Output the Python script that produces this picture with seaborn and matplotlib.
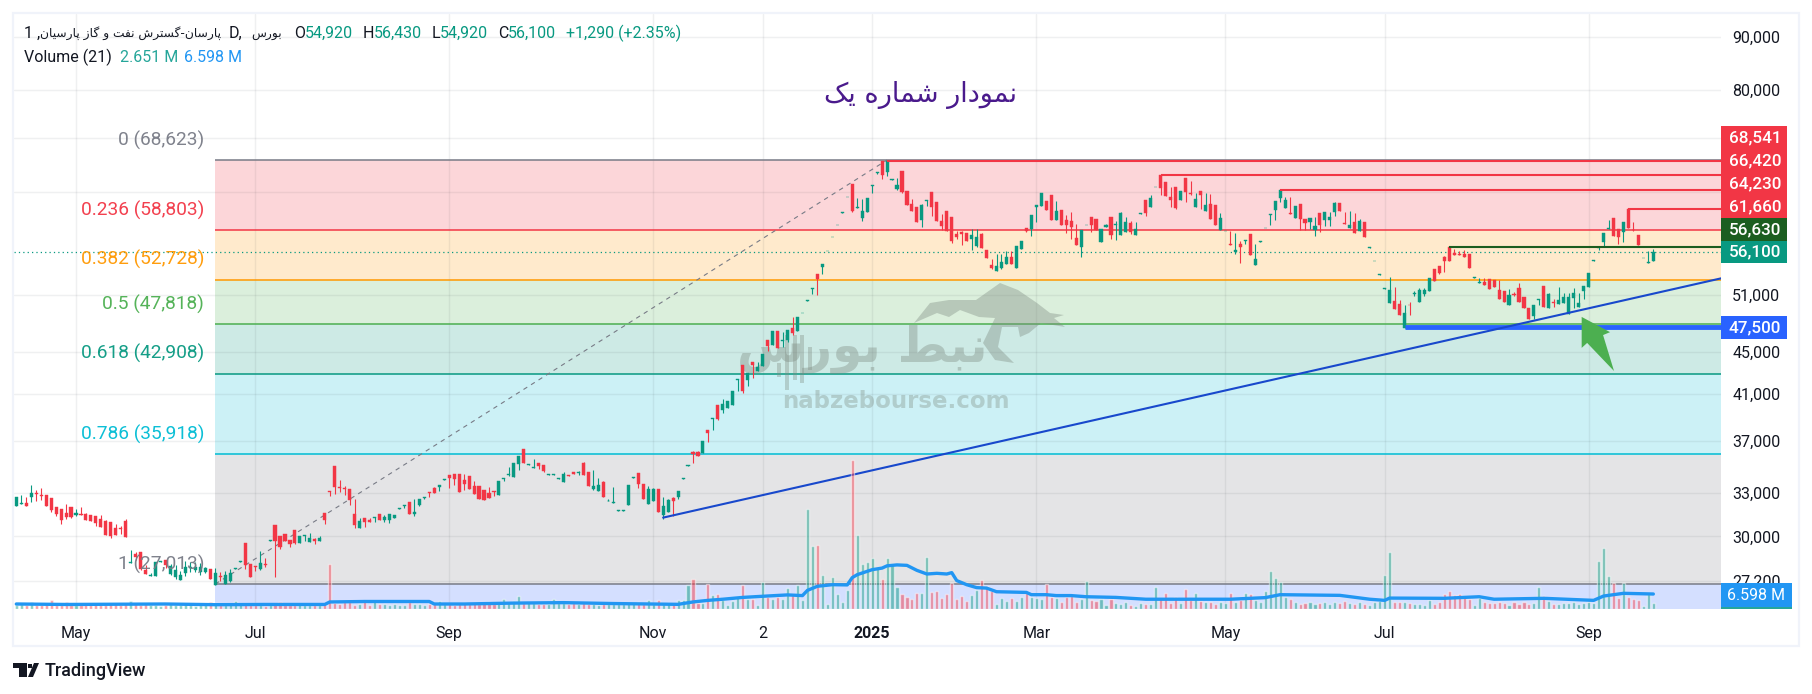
# TradingView style daily chart, Fibonacci retracement + volume pane
import numpy as np
import pandas as pd
import matplotlib
matplotlib.use("Agg")
import matplotlib.pyplot as plt
import matplotlib.transforms as mtransforms
from matplotlib.patches import Rectangle, Polygon
import seaborn as sns

# ------------------------------------------------------------
# Data (prices in thousands, volume in millions)
# ------------------------------------------------------------
opens = [
    32.10,32.24,32.29,32.71,33.02,32.85,32.85,32.64,32.00,31.86,
    31.58,32.00,31.44,31.51,31.51,31.44,31.37,31.17,31.03,30.96,
    30.55,30.55,31.03,28.30,28.86,28.98,27.86,27.50,27.50,28.38,
    28.48,27.62,27.44,27.25,27.68,27.99,27.86,27.74,27.74,27.93,
    26.95,27.50,27.01,27.19,27.95,28.38,29.56,28.23,28.11,27.93,
    28.23,29.72,30.75,30.03,30.16,29.76,30.42,29.56,30.03,29.63,
    29.83,29.69,31.58,33.12,35.01,33.43,33.36,33.29,31.51,30.55,
    31.23,31.10,31.23,31.51,31.10,31.10,31.23,31.88,32.08,32.36,
    31.51,32.15,32.64,33.07,33.36,33.43,33.98,34.33,34.41,34.41,
    33.95,34.26,33.51,33.51,33.21,32.99,33.14,32.85,34.03,34.33,
    34.18,35.17,36.34,35.09,34.86,35.25,35.09,34.36,34.36,34.03,
    33.80,34.33,34.56,34.48,35.25,34.56,33.29,33.14,33.80,32.41,
    32.31,31.74,31.74,32.15,34.13,34.48,33.65,32.22,32.43,33.29,
    31.44,31.65,32.64,32.71,34.05,35.04,36.09,36.09,36.03,37.87,
    38.84,40.07,39.63,39.80,40.07,42.29,43.70,42.29,44.00,43.15,
    43.65,46.18,45.68,47.10,46.08,46.18,47.42,47.10,48.98,50.35,
    51.71,53.43,54.25,56.13,57.88,59.45,61.10,63.20,65.10,61.74,
    60.45,61.15,64.80,66.65,68.54,66.85,65.70,64.40,67.00,64.10,
    62.35,61.88,60.15,62.70,63.95,62.55,60.00,61.30,60.60,58.30,
    58.55,58.45,57.65,56.85,58.30,56.31,54.49,53.78,54.14,54.60,
    55.45,54.14,56.43,59.13,59.00,61.95,62.04,62.73,63.57,60.17,
    61.50,60.17,60.03,57.81,56.68,59.42,60.57,60.30,57.30,59.26,
    60.57,59.50,58.20,58.60,59.76,58.20,61.00,62.87,61.90,64.60,
    66.41,65.40,63.29,64.70,62.87,65.97,63.85,61.90,64.13,61.37,
    62.32,62.18,58.87,58.65,57.05,56.10,57.05,57.43,58.33,54.49,
    57.35,59.05,60.83,61.50,63.15,61.77,61.10,60.43,62.32,60.30,
    59.90,58.87,61.10,60.17,60.17,61.24,62.46,59.76,59.13,59.90,
    58.76,59.90,56.60,54.90,53.35,51.73,50.13,50.35,50.02,47.44,
    49.90,51.13,50.24,51.13,51.47,54.02,54.37,55.45,56.68,55.93,
    55.82,55.82,55.82,53.00,52.38,52.50,52.85,52.74,51.58,51.47,
    49.90,51.13,51.80,50.79,49.58,48.72,50.46,52.03,49.58,50.24,
    50.02,50.13,48.94,50.68,49.70,51.47,51.93,55.00,56.55,57.30,
    59.00,60.44,58.97,58.55,61.66,58.85,58.20,55.27,54.77,54.92,
]
highs = [
    32.71,32.85,32.71,33.58,33.21,33.36,32.85,32.64,32.00,31.86,
    32.22,32.00,31.86,32.00,31.58,31.44,31.37,31.44,31.10,30.96,
    30.82,30.69,31.17,29.11,28.96,28.98,28.17,27.66,28.36,28.42,
    28.48,28.23,28.17,27.80,28.42,28.36,28.36,28.30,28.05,27.93,
    27.99,27.74,27.80,27.93,27.99,28.42,29.56,28.23,28.11,29.04,
    28.60,29.76,30.75,30.03,30.16,29.76,30.42,30.03,30.09,30.22,
    29.89,30.03,31.58,33.12,35.01,33.95,33.51,33.29,32.57,31.23,
    31.23,31.23,31.30,31.51,31.44,31.51,31.44,31.93,32.15,32.36,
    32.57,32.57,32.71,33.07,33.43,33.58,34.03,34.33,34.41,34.41,
    34.41,34.26,33.88,33.51,33.21,33.43,33.14,33.88,34.10,34.93,
    35.25,35.78,36.34,35.17,35.55,35.25,35.09,34.41,34.41,34.10,
    34.56,34.33,34.56,34.63,35.33,34.56,34.71,34.10,33.88,32.54,
    33.43,31.79,31.79,33.58,34.18,34.48,33.65,33.51,33.36,33.29,
    32.71,32.57,32.71,33.14,34.10,35.09,36.17,36.17,36.99,37.87,
    38.92,40.07,40.59,40.42,41.30,42.38,43.70,42.97,44.00,44.00,
    44.80,46.18,47.10,47.10,47.00,47.20,48.60,48.60,49.05,50.42,
    51.83,53.43,54.60,56.20,57.95,59.55,61.20,63.28,65.10,63.15,
    63.00,63.15,64.95,66.80,68.54,68.54,65.75,66.00,67.00,64.10,
    63.00,61.88,62.35,62.85,63.95,62.55,61.00,61.30,60.60,58.70,
    58.70,58.45,58.90,58.90,58.45,56.31,55.20,55.82,55.82,56.19,
    56.19,56.80,57.43,59.13,60.83,62.18,63.85,62.73,63.57,62.73,
    61.50,60.83,61.24,59.63,58.87,59.50,60.57,60.30,59.00,59.63,
    60.57,60.03,61.24,60.57,60.03,59.90,61.10,62.87,63.57,64.70,
    66.41,65.40,64.70,64.70,64.13,65.97,65.55,63.85,64.13,63.85,
    63.70,62.18,61.10,58.74,58.74,58.48,57.43,57.55,58.33,57.05,
    57.43,59.13,60.96,62.73,64.27,63.29,63.29,62.04,62.32,60.30,
    60.43,60.57,61.10,61.24,61.24,62.60,62.46,61.24,61.37,61.10,
    60.30,59.90,56.68,54.97,53.43,51.80,53.08,51.93,50.46,49.90,
    50.24,51.47,51.80,51.80,52.97,54.02,54.37,55.57,56.68,56.43,
    56.19,56.31,55.82,53.08,52.97,52.97,52.85,52.74,52.74,51.47,
    51.70,51.36,52.38,50.79,49.58,49.90,50.53,52.03,51.25,50.57,
    51.93,51.25,51.25,51.80,51.25,52.03,53.55,55.09,56.68,58.42,
    60.17,60.44,58.97,59.90,61.76,59.90,58.20,55.35,56.19,56.43,
]
lows = [
    32.10,32.24,32.10,32.38,32.45,32.52,32.10,31.65,31.39,30.82,
    31.17,31.23,31.37,31.44,31.10,31.03,30.69,30.62,30.09,29.89,
    30.09,30.16,29.96,28.30,28.48,27.86,27.62,27.50,27.50,28.38,
    27.97,27.56,27.31,27.25,27.50,27.74,27.74,27.56,27.68,27.31,
    26.95,27.19,27.01,27.13,27.95,28.38,27.93,27.44,27.80,27.86,
    28.05,29.72,27.44,29.17,29.69,29.30,29.50,29.56,29.69,29.63,
    29.50,29.69,30.82,32.78,32.92,33.07,32.85,32.15,30.55,30.55,
    30.62,30.96,30.96,31.10,30.96,30.89,31.23,31.88,31.93,31.51,
    31.37,32.08,32.57,32.71,32.99,33.14,33.98,33.36,33.58,33.07,
    33.21,33.29,32.92,32.57,32.50,32.64,32.78,32.85,33.88,34.28,
    34.18,34.71,35.25,35.09,34.86,34.78,34.56,34.36,34.36,34.03,
    33.80,34.28,34.41,34.33,34.33,33.51,33.21,33.14,32.71,32.41,
    32.31,31.74,31.74,32.15,34.13,33.36,32.57,32.22,32.43,31.65,
    31.17,31.65,31.37,32.57,34.05,35.04,35.25,35.78,36.03,36.90,
    37.87,38.78,39.37,39.80,40.07,41.30,41.12,41.73,42.48,43.15,
    43.65,45.10,45.68,45.38,45.48,45.98,46.69,47.10,48.98,50.35,
    51.15,51.04,53.43,56.13,57.88,59.45,61.10,63.20,61.20,61.74,
    60.00,61.15,63.80,66.50,65.85,66.25,65.70,64.25,63.80,62.20,
    61.30,59.90,59.20,62.05,60.70,60.00,58.80,58.70,57.20,57.65,
    56.95,57.40,56.30,56.70,56.60,55.35,54.02,53.78,54.02,54.60,
    54.60,54.14,56.43,58.60,58.07,59.90,62.04,61.50,60.17,60.17,
    59.50,58.48,57.68,56.92,55.45,59.42,58.60,58.87,57.30,59.26,
    57.68,57.55,58.20,58.60,58.33,58.20,61.00,60.70,61.90,64.60,
    63.57,63.43,61.90,61.63,62.87,62.60,63.60,61.90,61.63,61.37,
    60.30,59.50,58.87,58.65,56.92,55.82,54.73,57.05,55.70,54.49,
    57.35,59.05,59.50,60.17,62.60,61.77,60.96,60.43,58.87,58.87,
    59.00,58.07,58.60,59.37,59.37,60.70,61.37,59.68,59.13,58.48,
    58.76,57.93,56.60,54.90,53.35,51.73,50.13,49.48,48.83,47.44,
    48.83,50.90,50.24,50.90,51.47,52.62,53.43,53.67,54.97,55.70,
    55.70,55.45,54.13,53.00,52.38,52.15,51.70,51.93,50.58,50.24,
    49.90,50.90,50.24,49.58,48.40,48.40,49.90,49.70,49.58,49.70,
    50.02,50.13,48.94,49.58,49.70,50.58,51.93,55.00,56.31,56.80,
    59.00,58.05,57.05,57.30,59.10,58.75,56.93,55.27,54.77,54.92,
]
closes = [
    32.71,32.29,32.10,32.99,32.90,32.78,32.10,31.79,31.53,31.12,
    31.30,31.30,31.58,31.46,31.10,31.03,30.89,30.62,30.09,30.03,
    30.09,30.48,29.96,28.36,28.67,27.93,27.62,27.58,28.36,28.42,
    28.17,28.11,27.86,27.56,28.05,28.05,28.05,28.05,27.99,27.31,
    27.68,27.44,27.56,27.68,27.99,28.42,28.17,27.44,28.05,28.30,
    28.17,29.76,29.69,29.30,29.69,29.50,29.56,30.03,30.09,29.89,
    29.69,29.89,31.10,33.07,33.43,33.36,33.29,32.50,30.75,31.03,
    30.96,30.96,31.30,31.10,31.30,31.51,31.44,31.93,32.15,31.51,
    31.65,32.57,32.71,32.99,32.99,33.58,34.03,34.10,34.03,33.07,
    33.65,33.29,32.92,32.57,32.50,32.64,33.07,33.88,34.10,34.41,
    35.25,35.78,35.25,35.17,34.93,35.01,34.63,34.41,34.41,34.10,
    34.41,34.28,34.41,34.56,34.33,33.51,33.51,33.58,32.71,32.45,
    32.36,31.79,31.79,33.58,34.18,33.65,32.57,33.29,33.29,31.65,
    32.08,32.50,32.43,33.14,34.10,35.09,35.93,35.78,36.99,37.63,
    38.92,38.86,40.16,40.42,41.30,42.38,41.30,42.97,43.74,43.55,
    44.80,45.58,47.10,45.38,46.18,47.20,46.90,48.60,49.05,50.42,
    51.83,52.85,54.60,56.20,57.95,59.55,61.20,63.28,61.30,61.88,
    61.30,63.15,64.95,66.80,66.40,68.54,65.75,64.95,63.95,62.20,
    61.30,59.90,62.20,62.85,61.88,60.00,59.30,58.70,57.40,57.95,
    58.30,57.40,58.20,57.95,56.60,55.35,54.14,54.37,54.85,55.45,
    54.60,56.80,57.43,58.74,60.83,62.18,63.85,61.50,60.17,61.37,
    59.50,59.50,59.26,56.92,58.87,59.50,59.50,58.87,59.00,59.50,
    58.20,59.63,61.10,59.90,58.60,59.00,61.10,61.10,63.15,64.70,
    64.55,63.43,62.87,61.77,64.13,64.00,63.70,63.00,63.57,62.18,
    60.30,59.50,60.43,58.74,56.92,56.31,56.68,57.55,55.70,55.20,
    57.43,59.13,60.96,62.73,64.27,62.87,60.96,62.04,60.30,59.76,
    60.43,59.37,59.50,61.24,60.57,62.46,61.37,59.68,59.50,58.48,
    60.05,57.93,56.68,54.97,53.43,51.80,51.58,49.48,48.83,49.05,
    49.84,51.25,51.58,51.58,52.97,52.62,53.55,54.97,54.97,55.70,
    55.70,55.45,54.13,53.08,52.50,52.15,51.70,51.93,50.58,50.24,
    51.00,51.00,50.24,49.58,48.40,49.90,50.53,49.70,51.13,50.13,
    50.46,50.79,50.79,51.25,50.13,52.03,53.55,55.09,56.68,58.42,
    59.10,58.05,57.93,59.90,59.10,58.80,56.93,55.35,54.85,56.10,
]
volumes = [
    1.8,2.0,1.6,3.1,1.7,1.9,2.1,4.0,1.6,1.8,
    3.2,1.9,1.6,1.8,2.0,1.7,2.2,1.8,1.9,2.0,
    2.1,1.8,2.4,3.4,2.0,1.7,2.2,1.9,1.6,1.5,
    1.9,2.0,1.8,1.6,2.1,1.7,1.5,1.8,2.0,3.0,
    2.2,1.9,1.8,2.1,3.7,2.0,2.3,1.9,1.7,1.8,
    1.5,1.7,2.4,3.0,1.9,1.6,1.8,2.0,1.7,1.6,
    1.9,1.8,2.1,19.8,2.6,2.4,3.0,3.0,1.8,2.0,
    3.4,1.7,3.4,2.0,2.2,1.8,2.3,1.7,1.9,3.0,
    2.1,2.4,1.9,2.2,2.0,3.4,2.0,2.4,1.8,2.3,
    2.6,2.1,2.5,2.2,2.8,3.2,2.4,2.6,4.4,2.9,
    3.4,5.7,2.8,3.2,2.6,2.1,2.4,2.3,4.4,2.6,
    2.5,2.0,2.8,2.3,2.6,2.2,2.0,1.9,2.4,2.1,
    2.3,2.0,2.2,2.8,2.5,3.3,2.4,3.8,2.3,3.8,
    2.4,2.6,2.2,4.0,3.8,10.7,13.3,2.6,2.6,11.1,
    6.0,6.7,3.8,1.9,3.4,5.4,10.7,4.5,4.5,1.6,
    11.7,5.3,4.3,5.3,4.3,9.4,6.0,10.6,3.8,43.9,
    27.6,28.0,14.8,2.3,13.9,6.5,2.9,8.2,65.4,32.4,
    19.7,20.5,22.3,18.2,13.0,22.3,19.9,9.5,6.5,5.1,
    4.3,6.9,6.9,22.7,7.3,7.8,4.7,6.5,11.3,4.3,
    5.6,3.4,6.0,8.2,12.6,10.0,7.8,2.1,4.7,3.4,
    4.7,3.4,5.1,6.9,5.1,4.7,4.3,10.9,5.1,4.7,
    2.9,5.1,5.6,2.9,4.3,12.2,3.8,3.4,4.3,1.6,
    4.3,2.5,2.1,2.9,1.6,1.2,2.5,2.1,2.1,9.5,
    4.3,6.9,2.5,5.1,2.6,8.8,3.8,7.2,3.5,3.0,
    2.9,2.4,3.1,2.5,7.2,3.2,4.0,7.2,6.6,3.8,
    3.0,7.9,16.7,13.6,11.9,5.4,4.2,2.9,2.4,2.6,
    3.0,2.2,2.6,3.0,2.4,3.3,2.6,3.5,2.8,2.2,
    2.9,2.4,1.9,3.2,3.4,15.0,25.0,3.0,2.9,3.2,
    2.5,2.0,2.1,1.9,3.9,2.2,3.2,6.5,7.9,6.1,
    6.6,5.2,4.2,1.7,5.0,3.2,2.5,2.6,3.1,2.5,
    1.8,3.0,2.4,3.0,2.1,2.6,9.8,5.7,3.6,2.2,
    2.4,2.6,2.6,3.0,2.4,2.6,3.0,2.5,21.0,26.8,
    14.5,11.6,5.0,11.6,5.4,4.5,4.0,1.5,6.5,2.651,
]
# moving average of volume, vertices
ma_bars = [0,10,20,30,40,50,62,63,70,83,84,90,100,110,120,133,136,139,142,146,150,155,158,159,161,
           164,167,168,169,172,174,175,177,179,181,183,185,187,188,189,191,193,195,197,203,204,207,
           209,212,215,221,227,233,244,251,254,266,272,275,276,287,294,297,307,317,319,323,329]
ma_values = [2.2,2.0,2.1,2.2,1.9,2.0,2.0,3.1,3.3,3.3,2.2,2.2,2.6,2.8,2.4,2.05,3.1,3.8,4.3,5.1,5.6,6.2,5.9,8.2,10.0,
             10.7,10.6,13.8,15.1,17.3,18.0,19.0,19.4,19.2,17.0,15.4,15.7,15.4,16.0,12.5,10.7,9.4,9.2,7.6,7.3,6.3,6.3,
             5.9,5.9,5.4,5.1,4.3,4.3,4.3,5.0,6.3,6.0,4.3,3.8,4.8,4.7,5.4,4.3,4.7,3.8,5.7,6.9,6.598]

fib_levels = [68623, 58803, 52728, 47818, 42908, 35918, 27013]
fib_names = ["0", "0.236", "0.382", "0.5", "0.618", "0.786", "1"]
fib_colors = ["#787b86", "#f23645", "#ff9800", "#4caf50", "#089981", "#00bcd4", "#787b86"]

tick_prices = [90000, 80000, 72000, 64000, 51000, 45000, 41000, 37000, 33000, 30000, 27200]
tick_labels = ["90,000", "80,000", "", "", "51,000", "45,000", "41,000", "37,000", "33,000", "30,000", "27,200"]
month_bars = [12, 48, 87, 128, 150, 172, 205, 243, 275, 316]
month_labels = ["May", "Jul", "Sep", "Nov", "2", "2025", "Mar", "May", "Jul", "Sep"]

# level lines: start bar, price, colour, width in points
level_bars = [175, 230, 254, 324, 288, 279]
level_prices = [68541, 66420, 64230, 61660, 56630, 47500]
level_colors = ["#f23645", "#f23645", "#f23645", "#f23645", "#1b5e20", "#2962ff"]
level_widths = [1.5, 1.5, 1.5, 1.5, 1.5, 3.5]

trend_bars = [130, 342.6]
trend_prices = [31260, 52900]
arrow_bars = [314.6, 320.3, 318.9, 321.1, 315.7, 314.6]
arrow_prices = [48600, 47000, 46700, 43150, 45900, 45400]

# price tags on the right: text, colour, top and bottom pixel
tag_texts = ["68,541", "66,420", "64,230", "61,660", "56,630", "56,100", "47,500"]
tag_colors = ["#f23645", "#f23645", "#f23645", "#f23645", "#1b5e20", "#089981", "#2962ff"]
tag_tops = [126, 149, 172, 195, 218, 241, 316]
tag_bottoms = [149, 172, 195, 218, 241, 263, 339]

UP = "#089981"
DOWN = "#f23645"
W, H = 1812, 694

# Persian letters: isolated, final, initial, medial presentation forms
FORMS = {
    "ا": "\ufe8d\ufe8e", "د": "\ufea9\ufeaa", "ر": "\ufead\ufeae", "ز": "\ufeaf\ufeb0", "و": "\ufeed\ufeee",
    "ب": "\ufe8f\ufe90\ufe91\ufe92", "پ": "\ufb56\ufb57\ufb58\ufb59", "ت": "\ufe95\ufe96\ufe97\ufe98",
    "س": "\ufeb1\ufeb2\ufeb3\ufeb4", "ش": "\ufeb5\ufeb6\ufeb7\ufeb8", "ض": "\ufec1\ufec2\ufec3\ufec4",
    "ف": "\ufed1\ufed2\ufed3\ufed4", "ک": "\ufb8e\ufb8f\ufb90\ufb91", "گ": "\ufb92\ufb93\ufb94\ufb95",
    "م": "\ufee1\ufee2\ufee3\ufee4", "ن": "\ufee5\ufee6\ufee7\ufee8", "ه": "\ufee9\ufeea\ufeeb\ufeec",
    "ی": "\ufbfc\ufbfd\ufbfe\ufbff",
}


def fa(text):
    # matplotlib does not shape Arabic script, so join the letters here
    out = []
    for k, ch in enumerate(text):
        forms = FORMS.get(ch)
        if forms is None:
            out.append(ch)
            continue
        prev = text[k - 1] if k > 0 else " "
        nxt = text[k + 1] if k + 1 < len(text) else " "
        joins_prev = prev in FORMS and len(FORMS[prev]) == 4
        joins_next = nxt in FORMS and len(forms) == 4
        idx = {(False, False): 0, (True, False): 1, (False, True): 2, (True, True): 3}[(joins_prev, joins_next)]
        out.append(forms[idx])
    return "".join(reversed(out))


# ------------------------------------------------------------
# Figure
# ------------------------------------------------------------
sns.set_theme(style="white")
plt.rcParams["font.family"] = ["Roboto", "DejaVu Sans"]

df = pd.DataFrame({"bar": np.arange(len(closes)), "open": opens, "high": highs, "low": lows,
                   "close": closes, "volume": volumes})
df[["open", "high", "low", "close"]] *= 1000
df["dir"] = np.where(df["close"] >= df["open"], "up", "down")

fig = plt.figure(figsize=(W / 100, H / 100), dpi=100)
ax = fig.add_axes([14 / W, 1 - 609 / H, (1721 - 14) / W, (609 - 14) / H])
px = mtransforms.Affine2D().scale(1, -1).translate(0, H)  # picture pixels

ax.set_yscale("log")
ax.set_axisbelow("line")
xmin, xmax = -0.46, 342.6
ymin, ymax = 25570, 94600

# Fibonacci zones and lines
fib_start = 40
edges = fib_levels + [ymin]
zone_colors = fib_colors[1:] + ["#2962ff"]
for k, color in enumerate(zone_colors):
    ax.fill_between([fib_start, xmax], edges[k + 1], edges[k], color=color, alpha=0.2, lw=0, zorder=1)
ax.hlines(fib_levels, fib_start, xmax, colors=fib_colors, lw=1.1, zorder=2)
for name, level, color in zip(fib_names, fib_levels, fib_colors):
    ax.annotate(f"{name} ({level:,})", (fib_start, level), xytext=(-8, 14.4), textcoords="offset points",
                ha="right", va="center", color=color, fontsize=13.8, alpha=0.95, zorder=8)
ax.plot([fib_start, 175], [fib_levels[-1], fib_levels[0]], color="#787b86", lw=0.8, ls=(0, (4, 4)), zorder=2)

# Watermark
wm = "#7d8a80"
bull_x = [914, 930, 949, 976, 1000, 1018, 1037, 1050, 1064, 1054, 1065, 1041, 1029, 1020, 1018, 1002, 998, 1014,
          995, 983, 995, 979, 960, 949, 937]
bull_y = [323, 303, 300, 300, 283, 290, 303, 313, 315, 318, 327, 323, 333, 337, 327, 327, 347, 363,
          360, 343, 318, 317, 310, 317, 313]
ax.add_patch(Polygon(np.c_[bull_x, bull_y], closed=True, fc=wm, ec="none", alpha=0.38, transform=px, zorder=3))
for bx, top, bot in zip([779, 787, 795, 802, 810], [363, 335, 335, 335, 347], [377, 390, 380, 383, 370]):
    ax.add_patch(Rectangle((bx - 2, top), 4, bot - top, fc=wm, ec="none", alpha=0.35, transform=px, zorder=3))
ax.text(862, 350, fa("نبض بورس"), transform=px, ha="center", va="center", fontsize=35, fontweight="bold",
        family="DejaVu Sans", color=wm, alpha=0.38, zorder=3)
ax.text(896, 402, "nabzebourse.com", transform=px, ha="center", va="center", fontsize=16.5, fontweight="bold",
        family="DejaVu Sans", color=wm, alpha=0.35, zorder=3)

# Last price line, levels, trend line, arrow
ax.axhline(closes[-1] * 1000, color=UP, lw=0.9, ls=(0, (1, 2.5)), zorder=2)
for bar, price, color, width in zip(level_bars, level_prices, level_colors, level_widths):
    ax.hlines(price, bar, xmax, colors=color, lw=width, zorder=5)
sns.lineplot(x=trend_bars, y=trend_prices, ax=ax, color="#1848cc", lw=1.5, zorder=5, errorbar=None)
ax.fill(arrow_bars, arrow_prices, color="#4caf50", lw=0, zorder=6)

# Candles
cols = df["dir"].map({"up": UP, "down": DOWN}).to_numpy()
ax.vlines(df["bar"], df["low"], df["high"], colors=cols, lw=0.8, zorder=4)
ax.bar(df["bar"], (df["close"] - df["open"]).abs(), bottom=df[["open", "close"]].min(axis=1), width=0.62,
       color=cols, edgecolor=cols, lw=0.3, zorder=4)

# Volume pane (twinx moves the price ticks to the left, so it comes first)
vol_ax = ax.twinx()
sns.barplot(data=df, x="bar", y="volume", hue="dir", palette={"up": UP, "down": DOWN}, native_scale=True,
            dodge=False, width=0.62, saturation=1, alpha=0.5, legend=False, ax=vol_ax)
sns.lineplot(x=ma_bars, y=ma_values, ax=vol_ax, color="#2196f3", lw=2.4, errorbar=None)
vol_ax.set_xlim(xmin, xmax)
vol_ax.set_ylim(0, 261.8)
vol_ax.axis("off")

# Axes
ax.set_yticks(tick_prices, tick_labels)
ax.minorticks_off()
ax.yaxis.tick_right()
ax.set_xticks(month_bars, month_labels)
ax.tick_params(axis="y", length=0, pad=8, labelsize=11.5, labelcolor="#131722")
ax.tick_params(axis="x", length=0, pad=12, labelsize=11.5, labelcolor="#131722")
for lab, txt in zip(ax.get_xticklabels(), month_labels):
    if txt == "2025":
        lab.set_fontweight("bold")
ax.grid(True, color="#2a2e39", alpha=0.07, lw=1)
for spine in ax.spines.values():
    spine.set_visible(False)
ax.set_xlim(xmin, xmax)
ax.set_ylim(ymin, ymax)

# Frame
fig.add_artist(Rectangle((13, 13), 1786, 633, fc="none", ec="#f0f3fa", lw=1.6, transform=px))

# Header lines
dark = "#131722"
teal = "#089981"
header = [
    (24.5, "1 ,", dark), (40, fa("پارسان-گسترش نفت و گاز پارسیان"), dark), (229, "D,", dark), (251, fa("بورس"), dark),
    (294, "O", dark), (305, "54,920", teal), (363, "H", dark), (374, "56,430", teal),
    (432, "L", dark), (440, "54,920", teal), (498, "C", dark), (508, "56,100", teal),
    (566, "+1,290 (+2.35%)", teal),
]
for x, text, color in header:
    fam = ["DejaVu Sans"] if any(ord(c) > 0x600 for c in text) else ["Roboto"]
    fig.text(x, 33, text, transform=px, color=color, fontsize=8.8 if fam[0] != "Roboto" else 11.5,
             va="center", family=fam)
for x, text, color in [(24.5, "Volume (21)", dark), (120.5, "2.651 M", "#26a69a"), (184, "6.598 M", "#2196f3")]:
    fig.text(x, 57, text, transform=px, color=color, fontsize=11.5, va="center")

# Title
fig.text(921, 95, fa("نمودار شماره یک"), transform=px, color="#4a1a8c", fontsize=19.5, ha="center", va="center",
         family="DejaVu Sans")

# Price tags
for text, color, top, bot in zip(tag_texts, tag_colors, tag_tops, tag_bottoms):
    fig.add_artist(Rectangle((1721, top), 66, bot - top, fc=color, ec="none", transform=px))
    fig.text(1755, (top + bot) / 2, text, transform=px, color="white", fontsize=12.3, ha="center", va="center",
             fontweight="medium")
fig.add_artist(Rectangle((1721, 583), 71, 24, fc="#2196f3", ec="none", transform=px))
fig.add_artist(Rectangle((1721, 607), 71, 2, fc="#26a69a", ec="none", transform=px))
fig.text(1756, 595, "6.598 M", transform=px, color="white", fontsize=11.5, ha="center", va="center")

# TradingView logo and name
fig.add_artist(Polygon([(13, 663), (27, 663), (27, 677), (19, 677), (19, 668), (13, 668)], fc=dark, ec="none", transform=px))
fig.add_artist(Polygon([(28, 677), (34, 663), (39, 663), (33, 677)], fc=dark, ec="none", transform=px))
fig.add_artist(Polygon([(28, 664), (32, 664), (32, 668), (28, 668)], fc=dark, ec="none", transform=px))
fig.text(45, 670.5, "TradingView", transform=px, color=dark, fontsize=13, va="center", fontweight="medium")

fig.savefig("out.png", dpi=100, facecolor="white")
